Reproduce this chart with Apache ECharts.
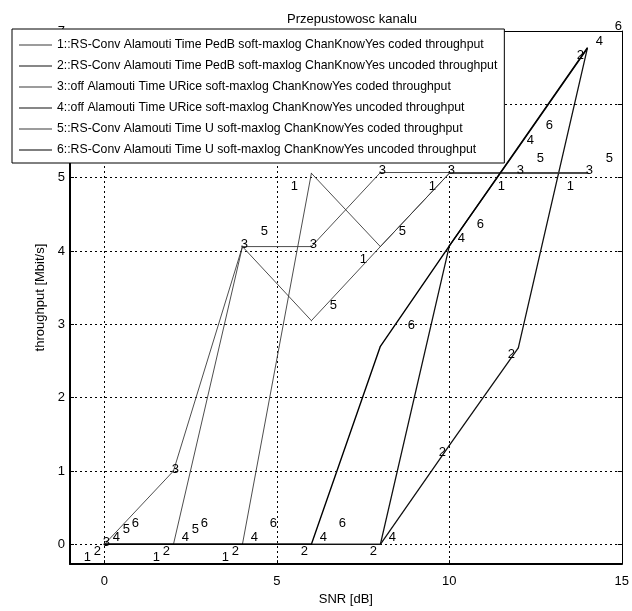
<!DOCTYPE html>
<html><head><meta charset="utf-8">
<script src="https://cdn.jsdelivr.net/npm/echarts@6/dist/echarts.min.js"></script>
<style>html,body{margin:0;padding:0;background:#fff}#c{width:632px;height:611px}</style>
</head><body><div id="c"></div>
<script>
// ---- data ----
const snr = [0, 2, 4, 6, 8, 10, 12, 14];
const s1 = [0, 0, 0, 5.06, 4.06, 5.06, 5.06, 5.06];
const s2 = [0, 0, 0, 0, 0, 1.35, 2.68, 6.76];
const s3 = [0, 1.0, 4.06, 4.06, 5.07, 5.07, 5.07, 5.07];
const s4 = [0, 0, 0, 0, 0, 4.07, 5.41, 6.76];
const s5 = [0, 0, 4.06, 3.05, 4.06, 5.06, 5.06, 5.06];
const s6 = [0, 0, 0, 0, 2.70, 4.07, 5.42, 6.77];
const seriesNames = [
  '1::RS-Conv Alamouti Time PedB soft-maxlog ChanKnowYes coded throughput',
  '2::RS-Conv Alamouti Time PedB soft-maxlog ChanKnowYes uncoded throughput',
  '3::off Alamouti Time URice soft-maxlog ChanKnowYes coded throughput',
  '4::off Alamouti Time URice soft-maxlog ChanKnowYes uncoded throughput',
  '5::RS-Conv Alamouti Time U soft-maxlog ChanKnowYes coded throughput',
  '6::RS-Conv Alamouti Time U soft-maxlog ChanKnowYes uncoded throughput'
];
const seriesTags = ['1', '2', '3', '4', '5', '6'];
const xTicks = [0, 5, 10, 15];
const yTicks = [0, 1, 2, 3, 4, 5, 6, 7];
const xRange = [-1, 15];
const yRange = [-0.27, 7];

// ---- styles ----
const allValues = [s1, s2, s3, s4, s5, s6];
const labelOffsets = [[-17, 13], [-7, 7], [2, -2], [12, -7], [22, -15], [31, -21]];
const lineColors = ['#3a3a3a', '#111', '#3a3a3a', '#111', '#3a3a3a', '#000'];
const lineWidths = [0.9, 1.3, 0.9, 1.3, 0.9, 1.4];
const FONT = '"Liberation Sans", Arial, Helvetica, sans-serif';

const series = allValues.map((vals, k) => ({
  name: seriesNames[k],
  type: 'line',
  xAxisIndex: 0, yAxisIndex: 0,
  data: snr.map((x, i) => [x, vals[i]]),
  symbol: 'circle',
  symbolSize: 1,
  showAllSymbol: true,
  lineStyle: { color: lineColors[k], width: lineWidths[k] },
  itemStyle: { color: lineColors[k] },
  label: {
    show: true,
    position: 'inside',
    offset: labelOffsets[k],
    formatter: seriesTags[k],
    color: '#000',
    fontSize: 13,
    fontFamily: FONT
  },
  emphasis: { disabled: true },
  z: 2 + k * 0.01
}));

const gridLine = { show: true, lineStyle: { color: '#000', width: 1, type: [2, 3] } };

const chart = echarts.init(document.getElementById('c'), null, { renderer: 'canvas' });
chart.setOption({
  animation: false,
  backgroundColor: '#fff',
  textStyle: { fontFamily: FONT },
  title: {
    text: 'Przepustowosc kanalu',
    left: 347, top: 8, textAlign: 'center',
    textStyle: { fontSize: 13, fontWeight: 'normal', color: '#000', fontFamily: FONT }
  },
  grid: { left: 70, right: 7, top: 31, bottom: 44 },
  legend: {
    orient: 'vertical',
    left: 12, top: 29,
    padding: [9, 7, 6, 7],
    itemGap: 7,
    itemWidth: 33,
    itemHeight: 1,
    icon: 'rect',
    selectedMode: false,
    backgroundColor: '#fff',
    borderColor: '#000',
    borderWidth: 1,
    textStyle: { fontSize: 12.25, color: '#000', fontFamily: FONT, lineHeight: 14 },
    data: seriesNames
  },
  xAxis: [{
    type: 'value', min: xRange[0], max: xRange[1], position: 'bottom',
    axisLine: { show: true, onZero: false, lineStyle: { color: '#000', width: 2 } },
    axisTick: { show: true, inside: true, length: 4, customValues: xTicks, lineStyle: { color: '#000' } },
    axisLabel: { customValues: xTicks, margin: 11, fontSize: 13, color: '#000', fontFamily: FONT },
    splitLine: gridLine,
    name: 'SNR [dB]', nameLocation: 'middle', nameGap: 27,
    nameTextStyle: { fontSize: 13, color: '#000', fontFamily: FONT }
  }, {
    type: 'value', min: xRange[0], max: xRange[1], position: 'top',
    axisLine: { show: true, onZero: false, lineStyle: { color: '#000', width: 1 } },
    axisTick: { show: true, inside: true, length: 4, customValues: xTicks },
    axisLabel: { show: false },
    splitLine: { show: false }
  }],
  yAxis: [{
    type: 'value', min: yRange[0], max: yRange[1], position: 'left',
    axisLine: { show: true, onZero: false, lineStyle: { color: '#000', width: 2 } },
    axisTick: { show: true, inside: true, length: 4, customValues: yTicks, lineStyle: { color: '#000' } },
    axisLabel: { customValues: yTicks, margin: 5, fontSize: 13, color: '#000', fontFamily: FONT },
    splitLine: gridLine,
    name: 'throughput [Mbit/s]', nameLocation: 'middle', nameGap: 17, nameRotate: 90,
    nameTextStyle: { fontSize: 13, color: '#000', fontFamily: FONT }
  }, {
    type: 'value', min: yRange[0], max: yRange[1], position: 'right',
    axisLine: { show: true, onZero: false, lineStyle: { color: '#000', width: 1 } },
    axisTick: { show: true, inside: true, length: 4, customValues: yTicks },
    axisLabel: { show: false },
    splitLine: { show: false }
  }],
  series: series
});
</script>
</body></html>
